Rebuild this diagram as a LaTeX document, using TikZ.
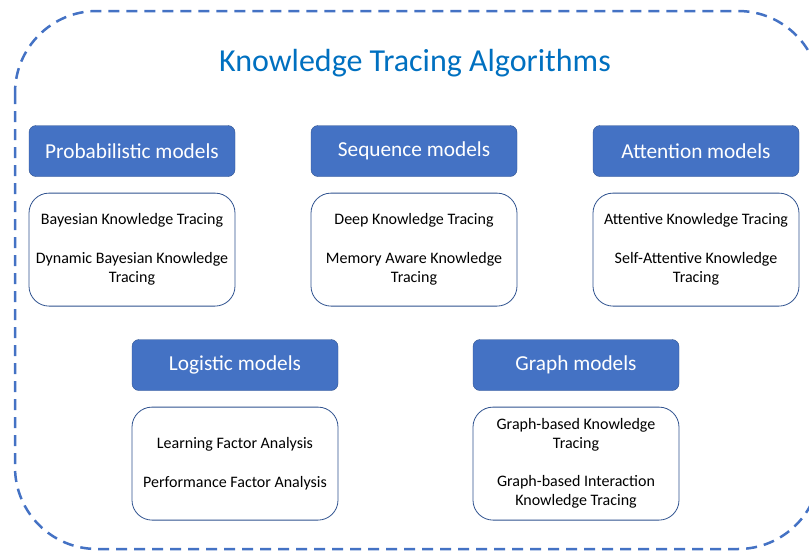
\documentclass[tikz,border=0pt]{standalone}
\usepackage{fontspec}
\setmainfont{Carlito}
\usetikzlibrary{positioning}
\definecolor{kblue}{HTML}{4472C4}
\definecolor{kedge}{HTML}{2F528F}
\definecolor{ktitle}{HTML}{0070C0}
\tikzstyle{header}=[rectangle,rounded corners=7pt,fill=kblue,draw=kedge,minimum width=206pt,minimum height=51pt,inner sep=0pt,text=white,font=\fontsize{21.3}{25}\selectfont]
\tikzstyle{content}=[rectangle,rounded corners=20pt,draw=kedge,thick,fill=white,minimum width=206pt,minimum height=113pt,inner sep=0pt,align=center,font=\fontsize{16}{19}\selectfont]
\tikzstyle{frame}=[draw=kblue,line width=2.5pt,rounded corners=82pt,dash pattern=on 11pt off 7pt]
\tikzstyle{title}=[text=ktitle,font=\fontsize{32}{38}\selectfont]

\begin{document}
\begin{tikzpicture}[x=1pt,y=-1pt]
    \useasboundingbox (0,0) rectangle (809,552);
    % Draw the dashed frame and the title
    \path[frame] (15,11) rectangle (820,549);
    \node[title] (title) at (415,63) {Knowledge Tracing Algorithms};
    % First we draw the model families
    \foreach \pos/\name/\label in {{(132,151)/pm/Probabilistic models}, {(414,151)/sm/Sequence models},
                            {(696,151)/am/Attention models}, {(235,365)/lm/Logistic models},
                            {(576,365)/gm/Graph models}}
        \node[header] (\name) at \pos {\label};
    % Then the algorithms below each family
    \foreach \head/\name/\algos in {pm/pmlist/{Bayesian Knowledge Tracing\\[20pt]Dynamic Bayesian Knowledge\\Tracing},
                                  sm/smlist/{Deep Knowledge Tracing\\[20pt]Memory Aware Knowledge\\Tracing},
                                  am/amlist/{Attentive Knowledge Tracing\\[20pt]Self-Attentive Knowledge\\Tracing},
                                  lm/lmlist/{Learning Factor Analysis\\[20pt]Performance Factor Analysis},
                                  gm/gmlist/{Graph-based Knowledge\\Tracing\\[19pt]Graph-based Interaction\\Knowledge Tracing}}
        \node[content, below=16pt of \head] (\name) {\algos};
\end{tikzpicture}
\end{document}
